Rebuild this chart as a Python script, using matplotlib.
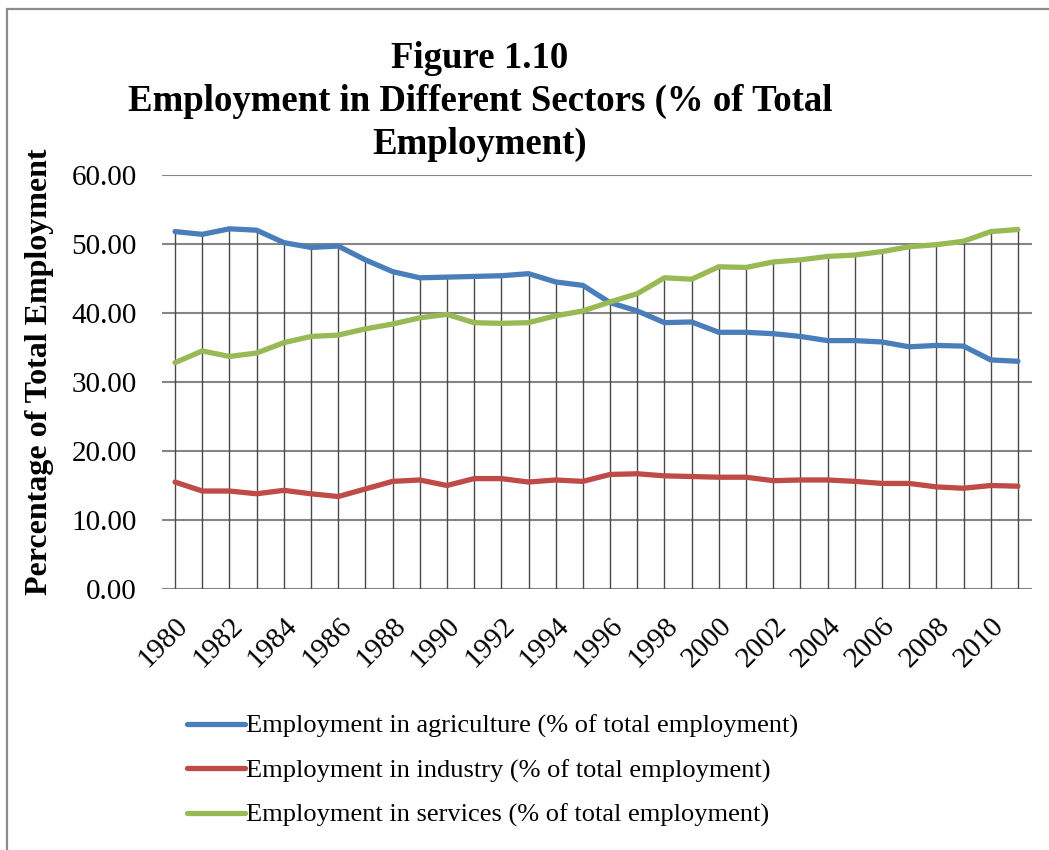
import matplotlib
matplotlib.use("Agg")
import matplotlib.pyplot as plt
from matplotlib.patches import Rectangle
import numpy as np

plt.rcParams['font.family'] = ['Liberation Serif', 'DejaVu Serif']

years = [1980, 1981, 1982, 1983, 1984, 1985, 1986, 1987, 1988, 1989,
         1990, 1991, 1992, 1993, 1994, 1995, 1996, 1997, 1998, 1999,
         2000, 2001, 2002, 2003, 2004, 2005, 2006, 2007, 2008, 2009,
         2010, 2011]

agriculture = [51.8, 51.4, 52.2, 52.0, 50.2, 49.5, 49.7, 47.7, 46.0, 45.1,
               45.2, 45.3, 45.4, 45.7, 44.5, 44.0, 41.5, 40.3, 38.6, 38.7,
               37.2, 37.2, 37.0, 36.6, 36.0, 36.0, 35.8, 35.1, 35.3, 35.2,
               33.2, 33.0]

industry = [15.5, 14.2, 14.2, 13.8, 14.3, 13.8, 13.4, 14.5, 15.6, 15.8,
            15.0, 16.0, 16.0, 15.5, 15.8, 15.6, 16.6, 16.7, 16.4, 16.3,
            16.2, 16.2, 15.7, 15.8, 15.8, 15.6, 15.3, 15.3, 14.8, 14.6,
            15.0, 14.9]

services = [32.8, 34.5, 33.7, 34.2, 35.7, 36.6, 36.8, 37.7, 38.4, 39.3,
            39.8, 38.6, 38.5, 38.6, 39.6, 40.3, 41.6, 42.8, 45.1, 44.9,
            46.7, 46.6, 47.4, 47.7, 48.2, 48.4, 48.9, 49.6, 49.9, 50.4,
            51.8, 52.1]

series_labels = [
    "Employment in agriculture (% of total employment)",
    "Employment in industry (% of total employment)",
    "Employment in services (% of total employment)",
]
series_colors = ["#4A7EBB", "#BE4B48", "#98B954"]

y_ticks = [0, 10, 20, 30, 40, 50, 60]

W, H = 1049, 850
fig = plt.figure(figsize=(W / 100, H / 100), dpi=100)

# outer chart frame (open to the right and bottom)
fig.patches.append(Rectangle((7 / W, -0.05), 1.1, 1 - 9 / H + 0.05,
                             transform=fig.transFigure, fill=False,
                             edgecolor="#8C8C8C", linewidth=1.6))

ax = fig.add_axes([162 / W, 1 - 589 / H, (1031.5 - 162) / W, (589 - 175) / H])

x = np.arange(len(years))
ax.set_xlim(-0.48, len(years) - 0.5)
ax.set_ylim(0, 60)

# horizontal gridlines
for yv in y_ticks:
    ax.axhline(yv, color="#858585", linewidth=1.5, zorder=1)

# drop lines from the highest series down to the axis
tops = np.max(np.vstack([agriculture, industry, services]), axis=0)
ax.vlines(x, 0, tops, color="#4A4A4A", linewidth=1.0, zorder=1)

for vals, lab, col in zip([agriculture, industry, services], series_labels, series_colors):
    ax.plot(x, vals, color=col, linewidth=3.8, label=lab,
            solid_capstyle="round", zorder=3)

for s in ax.spines.values():
    s.set_visible(False)

ax.set_yticks(y_ticks)
ax.set_yticklabels([f"{v:.2f}" for v in y_ticks])
ax.tick_params(axis="y", length=0, pad=18, labelsize=21)

ax.set_xticks(x[::2])
ax.set_xticklabels([str(y) for y in years[::2]], rotation=45,
                   ha="right", rotation_mode="anchor")
ax.tick_params(axis="x", length=0, pad=17, labelsize=21)

fig.text(40 / W, 1 - 372 / H, "Percentage of Total Employment", rotation=90,
         ha="center", va="center", fontsize=23, fontweight="bold")

title_lines = ["Figure 1.10", "Employment in Different Sectors (% of Total", "Employment)"]
for i, t in enumerate(title_lines):
    fig.text(480 / W, 1 - (58 + 43 * i) / H, t, ha="center", va="center",
             fontsize=26.5, fontweight="bold")

leg = fig.legend(loc="upper left", bbox_to_anchor=(176 / W, 1 - 704 / H),
                 frameon=False, fontsize=19, handlelength=2.2,
                 handletextpad=0.05, labelspacing=0.78, borderaxespad=0)
for ln in leg.get_lines():
    ln.set_linewidth(3.8)

fig.savefig("out.png", dpi=100)
